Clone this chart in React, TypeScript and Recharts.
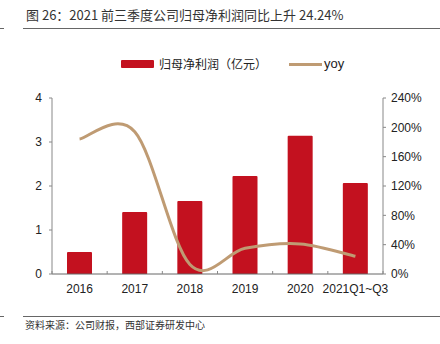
import * as React from "react";
import { Bar, ComposedChart, Line, XAxis, YAxis } from "recharts";

const YEARS = ["2016", "2017", "2018", "2019", "2020", "2021Q1~Q3"];
const PROFIT = [0.5, 1.41, 1.66, 2.23, 3.14, 2.07]; // 亿元
const YOY = [184, 194, 13, 35, 41, 24.24]; // %
const LEFT_TICKS = [0, 1, 2, 3, 4];
const RIGHT_TICKS = [0, 40, 80, 120, 160, 200, 240];

const RED = "#C3111F";
const TAN = "#BF9B73";
const AXIS = "#888";
const CJK = '"Noto Sans CJK SC", "Noto Sans", sans-serif';
const LATIN = '"Liberation Sans", Arial, sans-serif';

const PLOT_LEFT = 52;
const PLOT_RIGHT = 383;
const BAND = (PLOT_RIGHT - PLOT_LEFT) / YEARS.length;

// Excel-style smoothed line (uniform Catmull-Rom), written as a d3 curve factory.
function smoothCurve(context: any) {
  let xs: number[] = [];
  let ys: number[] = [];
  return {
    areaStart() {},
    areaEnd() {},
    lineStart() {
      xs = [];
      ys = [];
    },
    point(x: number, y: number) {
      xs.push(+x);
      ys.push(+y);
    },
    lineEnd() {
      const n = xs.length;
      if (!n) return;
      context.moveTo(xs[0], ys[0]);
      for (let i = 0; i < n - 1; i++) {
        const x0 = i > 0 ? xs[i - 1] : xs[i];
        const y0 = i > 0 ? ys[i - 1] : ys[i];
        const x3 = i + 2 < n ? xs[i + 2] : xs[i + 1];
        const y3 = i + 2 < n ? ys[i + 2] : ys[i + 1];
        context.bezierCurveTo(
          xs[i] + (xs[i + 1] - x0) / 6,
          ys[i] + (ys[i + 1] - y0) / 6,
          xs[i + 1] - (x3 - xs[i]) / 6,
          ys[i + 1] - (y3 - ys[i]) / 6,
          xs[i + 1],
          ys[i + 1],
        );
      }
    },
  };
}

// Category label plus the small upward tick at the band edges.
function YearTick(props: any) {
  const { x, y, payload, index } = props;
  const base = y - 8; // axis line
  return (
    <g>
      {index === 0 && (
        <line x1={x - BAND / 2} x2={x - BAND / 2} y1={base} y2={base - 3} stroke={AXIS} />
      )}
      <line x1={x + BAND / 2} x2={x + BAND / 2} y1={base} y2={base - 3} stroke={AXIS} />
      <text
        x={x}
        y={y + 11}
        textAnchor="middle"
        fontSize={12}
        fontFamily={LATIN}
        fill="#222"
      >
        {payload.value}
      </text>
    </g>
  );
}

const data = YEARS.map((year, i) => ({ year, profit: PROFIT[i], yoy: YOY[i] }));

export default function App() {
  return (
    <div
      style={{
        position: "absolute",
        left: 0,
        top: 0,
        width: 440,
        height: 344,
        background: "#fff",
        fontFamily: CJK,
      }}
    >
      <div
        style={{
          position: "absolute",
          left: 26,
          top: 6,
          fontSize: 13,
          color: "#333",
          whiteSpace: "nowrap",
          lineHeight: "18px",
        }}
      >
        图 26：2021 前三季度公司归母净利润同比上升 24.24%
      </div>
      <div style={{ position: "absolute", left: 0, top: 28, width: 4, height: 1, background: "#666" }} />
      <div style={{ position: "absolute", left: 23, top: 28, width: 417, height: 1, background: "#666" }} />

      <div
        style={{
          position: "absolute",
          left: 121,
          top: 55,
          display: "flex",
          alignItems: "center",
          fontSize: 12,
          color: "#222",
          whiteSpace: "nowrap",
          lineHeight: "18px",
        }}
      >
        <span style={{ width: 33, height: 8, background: RED, borderRadius: 1 }} />
        <span style={{ marginLeft: 5 }}>归母净利润（亿元）</span>
        <span style={{ width: 33, height: 3, background: TAN, marginLeft: 22 }} />
        <span style={{ marginLeft: 2, fontFamily: LATIN, fontSize: 13 }}>yoy</span>
      </div>

      <div style={{ position: "absolute", left: 0, top: 0 }}>
        <ComposedChart
          width={440}
          height={344}
          data={data}
          margin={{ top: 98, right: 440 - PLOT_RIGHT - 50, bottom: 40, left: PLOT_LEFT - 30 }}
        >
          <XAxis
            dataKey="year"
            axisLine={{ stroke: "#666" }}
            tickLine={false}
            tickSize={6}
            tickMargin={2}
            interval={0}
            height={30}
            tick={<YearTick />}
          />
          <YAxis
            yAxisId="left"
            width={30}
            domain={[0, 4]}
            ticks={LEFT_TICKS}
            axisLine={{ stroke: AXIS }}
            tickLine={{ stroke: AXIS }}
            tickSize={3}
            tickMargin={7}
            tick={{ fontSize: 12, fontFamily: LATIN, fill: "#222" }}
          />
          <YAxis
            yAxisId="right"
            orientation="right"
            width={50}
            domain={[0, 240]}
            ticks={RIGHT_TICKS}
            tickFormatter={(v: number) => `${v}%`}
            axisLine={{ stroke: AXIS }}
            tickLine={{ stroke: AXIS }}
            tickSize={3}
            tickMargin={5}
            tick={{ fontSize: 12, fontFamily: LATIN, fill: "#222" }}
          />
          <Bar
            yAxisId="left"
            dataKey="profit"
            fill={RED}
            barSize={25}
            radius={[1, 1, 0, 0]}
            isAnimationActive={false}
          />
          <Line
            yAxisId="right"
            dataKey="yoy"
            type={smoothCurve as any}
            stroke={TAN}
            strokeWidth={3}
            dot={false}
            activeDot={false}
            isAnimationActive={false}
          />
        </ComposedChart>
      </div>

      <div style={{ position: "absolute", left: 0, top: 316, width: 4, height: 1, background: "#666" }} />
      <div style={{ position: "absolute", left: 23, top: 316, width: 417, height: 1, background: "#666" }} />
      <div
        style={{
          position: "absolute",
          left: 25,
          top: 318,
          fontSize: 10,
          color: "#333",
          whiteSpace: "nowrap",
          lineHeight: "14px",
        }}
      >
        资料来源：公司财报，西部证券研发中心
      </div>
    </div>
  );
}
